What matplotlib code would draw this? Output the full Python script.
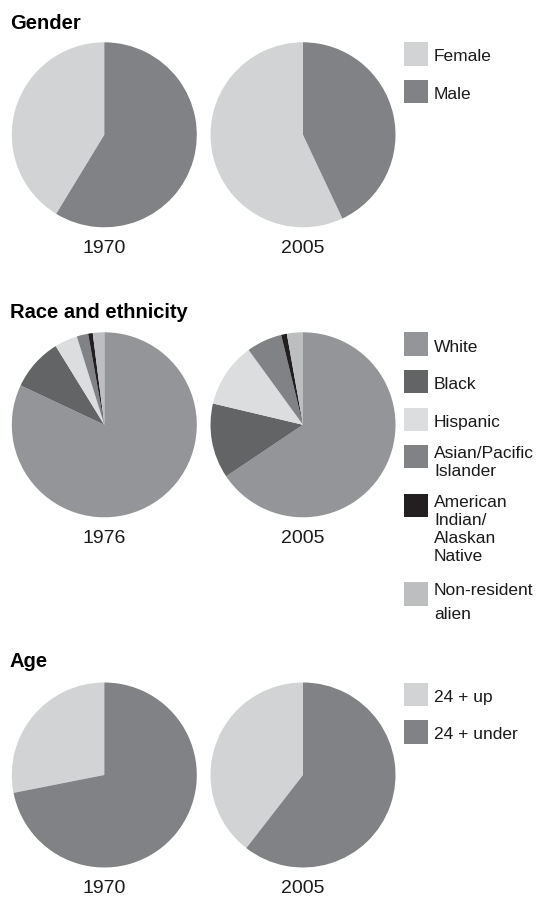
import matplotlib
matplotlib.use("Agg")
import matplotlib.pyplot as plt

plt.rcParams['font.family'] = ['Liberation Sans', 'DejaVu Sans']

# data (percent shares)
gender_years = ['1970', '2005']
gender_labels = ['Female', 'Male']
gender_1970 = [41.3, 58.7]
gender_2005 = [57.0, 43.0]

race_years = ['1976', '2005']
race_labels = ['White', 'Black', 'Hispanic', 'Asian/Pacific\nIslander',
               'American\nIndian/\nAlaskan\nNative', 'Non-resident\nalien']
race_1976 = [82.0, 9.2, 4.0, 2.0, 0.8, 2.0]
race_2005 = [65.6, 13.1, 11.3, 6.2, 1.0, 2.8]

age_years = ['1970', '2005']
age_labels = ['24 + up', '24 + under']
age_1970 = [28.1, 71.9]
age_2005 = [39.5, 60.5]

# colours
light = '#d1d3d4'
mid = '#808285'
gender_colors = [light, mid]
race_colors = ['#939598', '#636466', '#dcdddf', '#808285', '#231f20', '#bcbec0']
age_colors = [light, mid]

W, H = 539, 897
fig = plt.figure(figsize=(W / 100, H / 100), dpi=100)
fig.patch.set_facecolor('white')

R = 92.5
col_x = [104.3, 303.0]


def fy(y):
    return 1 - y / H


def draw_pie(cx, cy, vals, colors, counterclock):
    ax = fig.add_axes([(cx - R) / W, 1 - (cy + R) / H, 2 * R / W, 2 * R / H])
    ax.pie(vals, colors=colors, startangle=90, counterclock=counterclock,
           radius=1, wedgeprops=dict(linewidth=0))
    ax.set_xlim(-1, 1)
    ax.set_ylim(-1, 1)
    ax.set_aspect('equal')
    ax.axis('off')


def draw_section(title, title_base, cy, years, series, colors, counterclock,
                 labels, sq_tops, line_gaps):
    fig.text(10 / W, fy(title_base), title, fontsize=14.5, fontweight='bold',
             ha='left', va='baseline', color='black')
    for cx, yr, vals in zip(col_x, years, series):
        draw_pie(cx, cy, vals, colors, counterclock)
        fig.text(cx / W, fy(cy + R + 25.5), yr, fontsize=14,
                 ha='center', va='baseline', color='#1a1a1a')
    for lab, col, top, gap in zip(labels, colors, sq_tops, line_gaps):
        fig.patches.append(plt.Rectangle((404 / W, fy(top + 23.5)), 24 / W, 23.5 / H,
                                         transform=fig.transFigure, color=col,
                                         linewidth=0))
        lines = lab.split('\n')
        if len(lines) == 1:
            fig.text(434 / W, fy(top + 19), lab, fontsize=12.5,
                     ha='left', va='baseline', color='#1a1a1a')
        else:
            for i, ln in enumerate(lines):
                fig.text(434 / W, fy(top + 13 + i * gap), ln, fontsize=12.5,
                         ha='left', va='baseline', color='#1a1a1a')


draw_section('Gender', 29, 134.8, gender_years, [gender_1970, gender_2005],
             gender_colors, True, gender_labels, [42.3, 80.0], [0, 0])

draw_section('Race and ethnicity', 317.5, 424.8, race_years, [race_1976, race_2005],
             race_colors, False, race_labels,
             [332.5, 370.0, 407.5, 445.0, 494.0, 582.0],
             [0, 0, 0, 17.5, 18, 23.5])

draw_section('Age', 667, 775.0, age_years, [age_1970, age_2005],
             age_colors, True, age_labels, [682.5, 720.0], [0, 0])

fig.savefig('out.png', dpi=100, facecolor='white')
